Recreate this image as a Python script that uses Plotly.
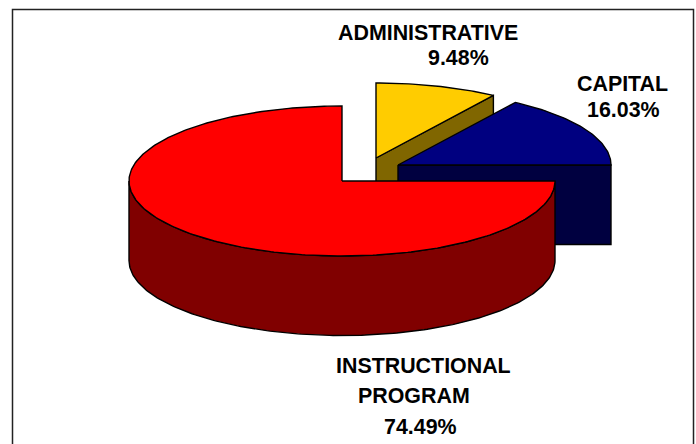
import numpy as np
import plotly.graph_objects as go

# --- data ---
categories = ["ADMINISTRATIVE", "CAPITAL", "INSTRUCTIONAL PROGRAM"]
shares = [9.48, 16.03, 74.49]

# --- styles and layout of the tilted, exploded pie (pixel space) ---
top_colors = ["#ffcc00", "#000080", "#ff0000"]
side_colors = ["#806600", "#000040", "#800000"]
apexes = [(376, 158), (398, 165), (342, 181)]
RX, RY, DEPTH = 213, 75, 79.5
EDGE = dict(color="#000000", width=1.4)
FONT = dict(family="Liberation Sans, Arial, sans-serif", size=21.4, color="#000000")
W, H = 696, 444

# label layout: (category index, wrapped lines, line centres)
label_layout = [
    (0, ["ADMINISTRATIVE"], [(427.5, 32.5)], (458, 57.5)),
    (1, ["CAPITAL"], [(622, 83.5)], (623, 109.5)),
    (2, ["INSTRUCTIONAL", "PROGRAM"], [(423.5, 365.5), (413.5, 395.5)], (420, 426.5)),
]

fracs = np.array(shares) / sum(shares)
ends = np.cumsum(fracs) * 2 * np.pi
# the drawn pie squares the large slice's first edge to the 3 o'clock direction
ends[:2] *= (np.pi / 2) / ends[1]
starts = np.concatenate([[0], ends[:-1]])


def rim(apex, a0, a1, dy=0.0):
    t = np.linspace(a0, a1, max(int(abs(a1 - a0) * 60), 2))
    return apex[0] + RX * np.sin(t), apex[1] - RY * np.cos(t) + dy


def poly(fig, x, y, color, edge=EDGE):
    fig.add_trace(go.Scatter(x=list(x), y=list(y), mode="lines", fill="toself",
                             fillcolor=color, line=edge, hoverinfo="skip",
                             showlegend=False))


fig = go.Figure()


def cut_face(i, angle):
    ax, ay = apexes[i]
    ex = ax + RX * np.sin(angle)
    ey = ay - RY * np.cos(angle)
    poly(fig, [ax, ex, ex, ax, ax], [ay, ey, ey + DEPTH, ay + DEPTH, ay], side_colors[i])


def top_face(i):
    ax, ay = apexes[i]
    x, y = rim(apexes[i], starts[i], ends[i])
    poly(fig, np.r_[ax, x, ax], np.r_[ay, y, ay], top_colors[i])


# back to front: administrative, capital, instructional
cut_face(0, ends[0])
top_face(0)
cut_face(1, ends[1])
top_face(1)

# outer wall of the large slice: only the front half is visible
a0, a1 = max(starts[2], np.pi / 2), 3 * np.pi / 2
xt, yt = rim(apexes[2], a0, a1)
xb, yb = rim(apexes[2], a0, a1, DEPTH)
poly(fig, np.r_[xt, xb[::-1], xt[0]], np.r_[yt, yb[::-1], yt[0]], side_colors[2])
top_face(2)

for i, lines, centres, pct_pos in label_layout:
    for line, (x, y) in zip(lines, centres):
        fig.add_annotation(x=x, y=y, text=f"<b>{line}</b>", showarrow=False,
                           xanchor="center", yanchor="middle", font=FONT)
    fig.add_annotation(x=pct_pos[0], y=pct_pos[1], text=f"<b>{shares[i]:.2f}%</b>",
                       showarrow=False, xanchor="center", yanchor="middle", font=FONT)

# chart-area frame, running off the bottom of the picture
fig.add_shape(type="rect", x0=12.5, y0=9.5, x1=693.5, y1=470,
              line=dict(color="#222222", width=1.5), layer="below")

fig.update_layout(
    width=W, height=H, margin=dict(l=0, r=0, t=0, b=0),
    paper_bgcolor="#ffffff", plot_bgcolor="#ffffff", showlegend=False,
    xaxis=dict(range=[0, W], visible=False, fixedrange=True),
    yaxis=dict(range=[H, 0], visible=False, fixedrange=True),
)
fig.write_html("out.html", config=dict(displayModeBar=False),
               post_script="document.body.style.margin='0';document.body.style.overflow='hidden';")
